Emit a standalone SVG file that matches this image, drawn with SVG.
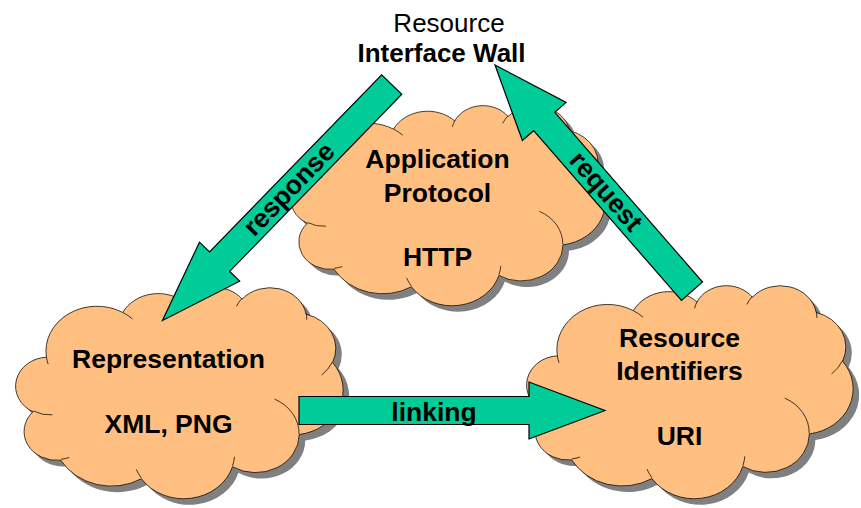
<svg xmlns="http://www.w3.org/2000/svg" xmlns:xlink="http://www.w3.org/1999/xlink" width="861" height="508" viewBox="0 0 861 508">
<style>
.shadow{fill:#808080;stroke:none}
.cloud{fill:#FFBF80;stroke:#000;stroke-width:1.2;vector-effect:non-scaling-stroke}
.inner{fill:none;stroke:#000;stroke-width:1.2;vector-effect:non-scaling-stroke}
.arrow{fill:#00CC99;stroke:#000;stroke-width:1.2}
.lbl{font-family:"Liberation Sans",Arial,sans-serif;font-weight:bold;font-size:26.5px;fill:#000;text-anchor:middle}
.top{font-family:"Liberation Sans",Arial,sans-serif;font-size:26px;fill:#000;text-anchor:middle}
</style>
<defs>
<path id="cloudShape" d="M39,143.7 A67.53,91.9 0 0 1 140.06,52.03 A53.33,72.67 0 0 1 224.56,34.32 A43.65,59.45 0 0 1 298.32,24.78 A48.57,65.95 0 0 1 383.16,55.75 A53.33,72.73 0 0 1 418.17,154.58 A67.75,92.2 0 0 1 374.03,302.01 A57.85,78.67 0 0 1 285.55,368.12 A67.52,92.15 0 0 1 164.81,392.64 A77.2,105.43 0 0 1 58.04,354.70 A43.6,59.18 0 0 1 21.13,255.49 A43.45,59.45 0 0 1 39,143.7 Z"/>
<path id="cloudInner" d="M46.93,261.77 A43.45,59.45 0 0 1 21.59,253.80 M69.28,348.99 A43.6,59.18 0 0 1 58.20,352.81 M164.78,390.90 A67.52,92.15 0 0 1 158.09,373.47 M288.27,347.51 A67.52,92.15 0 0 1 285.60,366.61 M341.29,229.54 A57.85,78.67 0 0 1 373.80,300.90 M417.98,153.54 A53.33,72.73 0 0 1 403.49,180.31 M383.24,54.26 A48.57,65.95 0 0 1 384.00,66.90 M290.78,39.52 A48.57,65.95 0 0 1 298.20,23.38 M221.41,47.20 A43.65,59.45 0 0 1 225.00,33.30 M140.00,51.92 A67.53,91.9 0 0 1 152.99,65.40 M41.27,157.89 A67.53,91.9 0 0 1 39.00,143.70"/>
</defs>

<g id="app-protocol">
<g transform="translate(298,111) scale(0.7245,0.463)"><use xlink:href="#cloudShape" href="#cloudShape" class="shadow"/></g>
<g transform="translate(292,105) scale(0.7245,0.463)"><use xlink:href="#cloudShape" href="#cloudShape" class="cloud"/><use xlink:href="#cloudInner" href="#cloudInner" class="inner"/></g>
</g>

<g id="representation">
<g transform="translate(23,293) scale(0.7546,0.4884)"><use xlink:href="#cloudShape" href="#cloudShape" class="shadow"/></g>
<g transform="translate(17,287) scale(0.7546,0.4884)"><use xlink:href="#cloudShape" href="#cloudShape" class="cloud"/><use xlink:href="#cloudInner" href="#cloudInner" class="inner"/></g>
</g>

<g id="resource-identifiers">
<g transform="translate(534,291) scale(0.7523,0.493)"><use xlink:href="#cloudShape" href="#cloudShape" class="shadow"/></g>
<g transform="translate(528,285) scale(0.7523,0.493)"><use xlink:href="#cloudShape" href="#cloudShape" class="cloud"/><use xlink:href="#cloudInner" href="#cloudInner" class="inner"/></g>
</g>

<g id="connectors">
<polygon class="arrow" points="0,-14 247,-14 247,-28 329,0 247,28 247,14 0,14" transform="translate(391.7,84.5) rotate(134.17)"/>
<polygon class="arrow" points="0,-14 225,-14 225,-29 300,0 225,29 225,14 0,14" transform="translate(692,291.2) rotate(-131.05)"/>
<polygon class="arrow" points="0,-14 230,-14 230,-28.5 306,0 230,28.5 230,14 0,14" transform="translate(299,410.5)"/>
<text class="lbl" transform="translate(289.6,189.7) rotate(-45.83)" y="8">response</text>
<text class="lbl" transform="translate(605.4,191.8) rotate(48.95)" y="8">request</text>
<text class="lbl" x="434" y="421">linking</text>
</g>

<g id="wall-label">
<text class="top" x="449" y="32">Resource</text>
<text class="top" x="441.5" y="62" font-weight="bold" font-size="25.5">Interface Wall</text>
</g>

<g id="labels">
<text class="lbl" x="437.5" y="167.5">Application</text>
<text class="lbl" x="437.5" y="201.5">Protocol</text>
<text class="lbl" x="437.5" y="266">HTTP</text>
<text class="lbl" x="168.5" y="368">Representation</text>
<text class="lbl" x="168.5" y="433">XML, PNG</text>
<text class="lbl" x="679.5" y="346.5">Resource</text>
<text class="lbl" x="679.5" y="380">Identifiers</text>
<text class="lbl" x="679.5" y="445">URI</text>
</g>
</svg>
